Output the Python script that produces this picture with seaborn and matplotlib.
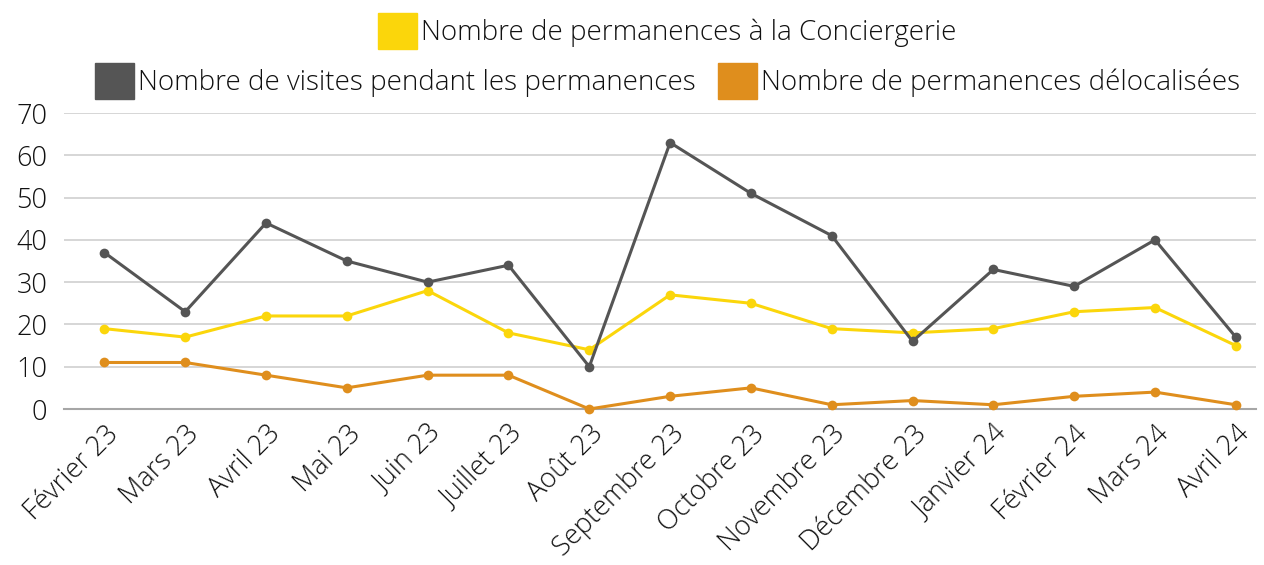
import matplotlib
matplotlib.use("Agg")
import matplotlib.pyplot as plt
from matplotlib.patches import Patch
import pandas as pd
import seaborn as sns

# Data
mois = ['Février 23', 'Mars 23', 'Avril 23', 'Mai 23', 'Juin 23', 'Juillet 23',
        'Août 23', 'Septembre 23', 'Octobre 23', 'Novembre 23', 'Décembre 23',
        'Janvier 24', 'Février 24', 'Mars 24', 'Avril 24']
conciergerie = [19, 17, 22, 22, 28, 18, 14, 27, 25, 19, 18, 19, 23, 24, 15]
visites = [37, 23, 44, 35, 30, 34, 10, 63, 51, 41, 16, 33, 29, 40, 17]
delocalisees = [11, 11, 8, 5, 8, 8, 0, 3, 5, 1, 2, 1, 3, 4, 1]

lab_conc = 'Nombre de permanences à la Conciergerie'
lab_vis = 'Nombre de visites pendant les permanences'
lab_deloc = 'Nombre de permanences délocalisées'

c_conc = '#FBD60B'
c_vis = '#555555'
c_deloc = '#DF8E1D'

sns.set_style('white')
plt.rcParams['font.family'] = ['Open Sans', 'DejaVu Sans']
plt.rcParams['font.weight'] = 'light'

fig = plt.figure(figsize=(12.64, 5.65), dpi=100)
ax = fig.add_axes([64 / 1264, 1 - 409 / 565, 1192 / 1264, 296 / 565])

df = pd.DataFrame({'mois': mois, 'conc': conciergerie, 'vis': visites, 'deloc': delocalisees})
df['pos'] = range(len(df))

for col, color in [('deloc', c_deloc), ('conc', c_conc), ('vis', c_vis)]:
    sns.lineplot(data=df, x='pos', y=col, ax=ax, color=color, linewidth=2.2,
                 marker='o', markersize=7, markeredgewidth=0, clip_on=False, zorder=3)

ax.set_xlim(-0.5, 14.25)
ax.set_ylim(0, 70)
ax.set_yticks(range(0, 71, 10))
ax.yaxis.grid(True, color='#D0D0D0', linewidth=1.2)
ax.set_axisbelow(True)
for s in ['top', 'right', 'left']:
    ax.spines[s].set_visible(False)
ax.spines['bottom'].set_color('#A6A6A6')
ax.spines['bottom'].set_linewidth(1.5)
ax.set_xticks(df['pos'])
ax.set_xticklabels(mois, rotation=45, ha='right', rotation_mode='anchor')
ax.tick_params(axis='both', labelsize=19.5, colors='#111111', length=0)
ax.tick_params(axis='y', pad=12)
ax.tick_params(axis='x', pad=8)
ax.set_xlabel('')
ax.set_ylabel('')

fig.legend(handles=[Patch(color=c_conc, label=lab_conc)], loc='center',
           bbox_to_anchor=(0.528, 1 - 31 / 565), frameon=False, fontsize=20,
           handlelength=1.4, handleheight=1.6, handletextpad=0.15, borderaxespad=0,
           labelcolor='#111111')
fig.legend(handles=[Patch(color=c_vis, label=lab_vis), Patch(color=c_deloc, label=lab_deloc)],
           loc='center', ncol=2, bbox_to_anchor=(0.528, 1 - 81 / 565), frameon=False,
           fontsize=20, handlelength=1.4, handleheight=1.6, handletextpad=0.15,
           columnspacing=0.8, borderaxespad=0, labelcolor='#111111')

fig.savefig('out.png', dpi=100)
